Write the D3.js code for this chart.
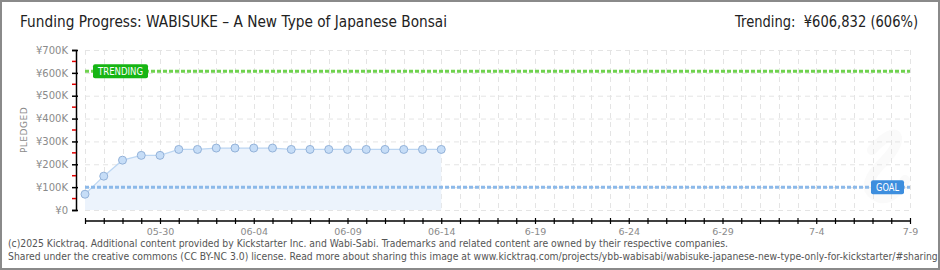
<!DOCTYPE html>
<html>
<head>
<meta charset="utf-8">
<script src="https://cdn.jsdelivr.net/npm/d3@7"></script>
<style>
  body { margin: 0; background: #fff; }
  svg { display: block; }
  text { font-family: "DejaVu Sans", sans-serif; }
</style>
</head>
<body>
<svg id="chart"></svg>
<script>
// data (daily pledged totals, yen)
const days = [
  "2025-05-26", "2025-05-27", "2025-05-28", "2025-05-29", "2025-05-30",
  "2025-05-31", "2025-06-01", "2025-06-02", "2025-06-03", "2025-06-04",
  "2025-06-05", "2025-06-06", "2025-06-07", "2025-06-08", "2025-06-09",
  "2025-06-10", "2025-06-11", "2025-06-12", "2025-06-13", "2025-06-14"
]
const pledged = [
  69000, 148000, 218000, 239000, 239000,
  265000, 265000, 271000, 271000, 271000,
  271000, 265000, 265000, 265000, 265000,
  265000, 265000, 265000, 265000, 265000
]
const goal = 100000
const trending = 606832
const campaignStart = "2025-05-26"
const campaignEnd = "2025-07-09"
const yTicks = [0, 100000, 200000, 300000, 400000, 500000, 600000, 700000]
const xLabelDates = ["2025-05-30", "2025-06-04", "2025-06-09", "2025-06-14", "2025-06-19", "2025-06-24", "2025-06-29", "2025-07-04", "2025-07-09"]
const xLabelTexts = ["05-30", "06-04", "06-09", "06-14", "6-19", "6-24", "6-29", "7-4", "7-9"]

const titleText = "Funding Progress: WABISUKE \u2013 A New Type of Japanese Bonsai"
const trendText = "Trending:\u00a0 \u00a5606,832 (606%)"
const footer1 = "(c)2025 Kicktraq. Additional content provided by Kickstarter Inc. and Wabi-Sabi. Trademarks and related content are owned by their respective companies."
const footer2 = "Shared under the creative commons (CC BY-NC 3.0) license. Read more about sharing this image at www.kicktraq.com/projects/ybb-wabisabi/wabisuke-japanese-new-type-only-for-kickstarter/#sharing"

const width = 940, height = 270
const parse = d3.utcParse("%Y-%m-%d")

const svg = d3.select("#chart")
  .attr("width", width)
  .attr("height", height)
  .attr("viewBox", [0, 0, width, height])

// outer frame
svg.append("rect")
  .attr("x", 1).attr("y", 1)
  .attr("width", width - 2).attr("height", height - 2)
  .attr("fill", "#fff")
  .attr("stroke", "#8a8a8a")
  .attr("stroke-width", 2)

const x = d3.scaleUtc()
  .domain([parse(campaignStart), parse(campaignEnd)])
  .range([85, 910])

const y = d3.scaleLinear()
  .domain([0, 700000])
  .range([210, 50])

const allDays = d3.utcDay.range(parse(campaignStart), d3.utcDay.offset(parse(campaignEnd), 1))

// very faint watermark swoosh
svg.append("path")
  .attr("d", "M872,150 C900,120 905,140 885,160 C870,175 860,190 880,198 C890,200 900,190 905,180")
  .attr("fill", "none")
  .attr("stroke", "#fafafa")
  .attr("stroke-width", 10)
  .attr("stroke-linecap", "round")

// grid
const grid = svg.append("g")
  .attr("stroke", "#e4e4e4")
  .attr("stroke-width", 1)
  .attr("stroke-dasharray", "5,4")

grid.selectAll("line.h")
  .data(yTicks)
  .join("line")
  .attr("class", "h")
  .attr("x1", x.range()[0]).attr("x2", x.range()[1])
  .attr("y1", d => y(d) + 0.5).attr("y2", d => y(d) + 0.5)

grid.selectAll("line.v")
  .data(allDays)
  .join("line")
  .attr("class", "v")
  .attr("x1", d => Math.round(x(d)) + 0.5).attr("x2", d => Math.round(x(d)) + 0.5)
  .attr("y1", y(700000)).attr("y2", y(0))

// series
const series = days.map((d, i) => ({ date: parse(d), value: pledged[i] }))

svg.append("path")
  .datum(series)
  .attr("fill", "#ecf3fc")
  .attr("d", d3.area()
    .x(d => x(d.date))
    .y0(y(0))
    .y1(d => y(d.value)))

svg.append("path")
  .datum(series)
  .attr("fill", "none")
  .attr("stroke", "#bcd6f2")
  .attr("stroke-width", 1.2)
  .attr("d", d3.line()
    .x(d => x(d.date))
    .y(d => y(d.value)))

// trending + goal lines
const refLines = [
  { value: trending, color: "#6fd24f", label: "TRENDING", box: "#17b514", lx: 93, lw: 55 },
  { value: goal, color: "#8cb9e9", label: "GOAL", box: "#3d8ede", lx: 871, lw: 33 }
]

svg.selectAll("line.ref")
  .data(refLines)
  .join("line")
  .attr("class", "ref")
  .attr("x1", x.range()[0]).attr("x2", x.range()[1])
  .attr("y1", d => y(d.value)).attr("y2", d => y(d.value))
  .attr("stroke", d => d.color)
  .attr("stroke-width", 3)
  .attr("stroke-dasharray", "4,2")

const refLabels = svg.selectAll("g.reflabel")
  .data(refLines)
  .join("g")
  .attr("class", "reflabel")
  .attr("transform", d => `translate(${d.lx},${y(d.value) - 7})`)

refLabels.append("rect")
  .attr("width", d => d.lw)
  .attr("height", 14)
  .attr("rx", 2)
  .attr("fill", d => d.box)

refLabels.append("text")
  .attr("x", 5)
  .attr("y", 10.5)
  .attr("font-family", "DejaVu Sans Mono, monospace")
  .attr("font-size", 10)
  .attr("fill", "#fff")
  .attr("textLength", d => d.lw - 10)
  .attr("lengthAdjust", "spacingAndGlyphs")
  .text(d => d.label)

// points
svg.append("g")
  .selectAll("circle")
  .data(series)
  .join("circle")
  .attr("cx", d => x(d.date))
  .attr("cy", d => y(d.value))
  .attr("r", 4)
  .attr("fill", "#c6ddf7")
  .attr("stroke", "#93b2d9")
  .attr("stroke-width", 1)

// y axis
const yAxis = svg.append("g")
  .attr("transform", "translate(76,0)")
  .call(d3.axisLeft(y)
    .tickValues(yTicks)
    .tickSize(4)
    .tickFormat(d => d === 0 ? "\u00a50" : "\u00a5" + (d / 1000) + "K"))

yAxis.select(".domain").attr("stroke", "#000").attr("stroke-width", 1.5)
yAxis.selectAll(".tick line").attr("x2", -4).attr("x1", 2).attr("stroke", "#000").attr("stroke-width", 1.5)
yAxis.selectAll(".tick text")
  .attr("x", -8)
  .attr("font-family", "DejaVu Sans Mono, monospace")
  .attr("font-size", 10)
  .attr("fill", "#8a8a8a")

yAxis.selectAll("line.minor")
  .data(yTicks.slice(1).map(d => d - 50000))
  .join("line")
  .attr("class", "minor")
  .attr("x1", -4).attr("x2", 0)
  .attr("y1", d => y(d)).attr("y2", d => y(d))
  .attr("stroke", "#e00000")
  .attr("stroke-width", 1.5)

svg.append("text")
  .attr("transform", `translate(27,${(y(0) + y(700000)) / 2}) rotate(-90)`)
  .attr("text-anchor", "middle")
  .attr("font-family", "DejaVu Sans Mono, monospace")
  .attr("font-size", 9)
  .attr("letter-spacing", 0.5)
  .attr("fill", "#8a8a8a")
  .text("PLEDGED")

// x axis
const labelMap = new Map(xLabelDates.map((d, i) => [+parse(d), xLabelTexts[i]]))
const xAxis = svg.append("g")
  .attr("transform", "translate(0,221)")
  .call(d3.axisBottom(x)
    .tickValues(allDays)
    .tickSize(3)
    .tickPadding(4)
    .tickFormat(d => labelMap.get(+d) || ""))

xAxis.select(".domain").attr("stroke", "#000").attr("stroke-width", 1.5).attr("d", `M${x.range()[0]},0H${x.range()[1]}`)
xAxis.selectAll(".tick line").attr("y1", -3).attr("y2", 3).attr("stroke", "#000").attr("stroke-width", 1.2)
xAxis.selectAll(".tick text")
  .attr("font-family", "DejaVu Sans Mono, monospace")
  .attr("font-size", 9.5)
  .attr("fill", "#8a8a8a")

// header
svg.append("text")
  .attr("x", 20).attr("y", 27)
  .attr("font-size", 15)
  .attr("fill", "#222")
  .attr("textLength", 427)
  .attr("lengthAdjust", "spacingAndGlyphs")
  .text(titleText)

svg.append("text")
  .attr("x", 735).attr("y", 27)
  .attr("font-size", 15)
  .attr("fill", "#222")
  .attr("textLength", 183)
  .attr("lengthAdjust", "spacingAndGlyphs")
  .text(trendText)

// footer
const clip = svg.append("clipPath").attr("id", "frameclip")
clip.append("rect").attr("x", 2).attr("y", 2).attr("width", width - 4).attr("height", height - 4)

const foot = svg.append("g").attr("clip-path", "url(#frameclip)")
const f1 = foot.append("text")
  .attr("x", 8).attr("y", 247)
  .attr("font-size", 10)
  .attr("fill", "#555")
  .text(footer1)
const f2 = foot.append("text")
  .attr("x", 8).attr("y", 260)
  .attr("font-size", 10)
  .attr("fill", "#555")
  .text(footer2)

// squeeze footer to the narrow face used in the reference
const w1 = f1.node().getComputedTextLength()
const k = 720 / w1
f1.attr("textLength", 720).attr("lengthAdjust", "spacingAndGlyphs")
const w2 = f2.node().getComputedTextLength()
f2.attr("textLength", w2 * k).attr("lengthAdjust", "spacingAndGlyphs")
</script>
</body>
</html>
